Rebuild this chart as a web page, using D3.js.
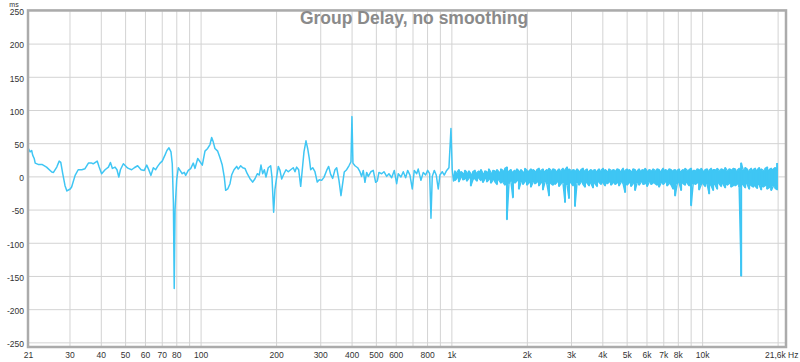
<html>
<head>
<meta charset="utf-8">
<title>Group Delay</title>
<script src="https://d3js.org/d3.v7.min.js"></script>
<style>
  body { margin: 0; background: #fff; }
  text { font-family: "Liberation Sans", Arial, sans-serif; }
</style>
</head>
<body>
<script>
// low end: read point by point (Hz, ms)
const lfFreq = [20.5, 20.9, 21.2, 21.4, 21.7, 21.9, 22.5, 23.3, 24.3, 25.5, 25.9, 26.7, 27.3, 27.7, 28.2, 28.8, 29.3, 30.2, 30.6, 31.6,
  32.5, 33.6, 34.6, 35.7, 36.8, 37.3, 38.7, 39.4, 40.3, 41.6, 42.9, 43.7, 44.5, 45.6, 46.4, 47.2, 47.9, 49.2, 50.7, 51.5,
  53.1, 54.4, 56.1, 57.9, 59.6, 61.0, 62.3, 63.4, 64.8, 66.2, 67.4, 68.9, 70.3, 72.1, 73.4, 74.8, 76.2, 77.1, 77.9, 78.5,
  79.1, 80.3, 81.5, 82.8, 84.5, 86.1, 87.2, 89.3, 91.3, 93.5, 95.0, 97.4, 99.5, 101.6, 104.1, 106.7, 109.0, 110.7, 112.3, 114.1,
  117.0, 119.5, 122.0, 124.3, 125.9, 128.3, 131.0, 133.0, 135.9, 139.3, 141.3, 144.5, 147.2, 150.3, 153.5, 157.4, 161.3, 164.8, 168.3, 171.4,
  174.1, 176.8, 179.5, 182.3, 186.1, 190.3, 192.6, 195.6, 197.9, 201.1, 204.1, 207.3, 210.6, 215.0, 219.0, 223.7, 228.7, 234.2, 237.9, 241.6,
  246.1, 250.7, 255.3, 258.4, 263.2, 267.3, 271.3, 274.8, 279.9, 285.8, 291.9, 297.3, 304.0, 310.4, 318.2, 324.1, 330.1, 336.3, 343.5, 348.9,
  356.3, 362.9, 367.2, 374.0, 382.3, 390.5, 397.8, 401.4, 405.1, 412.6, 423.0, 432.0, 438.7, 445.3, 452.3, 459.4, 466.3, 477.9, 488.1, 499.0,
  506.5, 514.4, 527.3, 538.6, 552.1, 563.8, 578.1, 592.0, 605.2, 614.2, 629.5, 643.0, 657.2, 669.5, 683.7, 698.4, 711.4, 727.1, 737.8, 756.4,
  772.6, 789.7, 804.4, 819.4, 829.3, 839.2, 854.6, 870.4, 886.6, 900.4, 919.6, 936.8, 957.8, 978.1, 996.3, 1008, 1020];
const lfDelay = [43, 37, 39, 32, 27, 20, 18, 18, 14, 6.5, 6, 14, 23, 21, 4, -14, -22, -19, -16, 1.5,
  10, 10, 11.6, 20, 20, 19, 23, 14, 4, 10, 14, 21, 12, 14, 10, -1, 10, 19, 14, 12,
  10, 13, 16, 10, 9, 17, 9, 1.5, 13, 10, 15, 20, 23, 32, 39, 43, 37, 19, -40, -169,
  -50, -5, 13, 9, 4, 6, 1.5, 9, 11.6, 20, 12, 27, 22, 17, 38, 42, 48, 58.6, 52, 42,
  38, 28, 17, -1, -21, -19, -11, 2, 10, 15, 11, 16, 13, 12, 4, -3.5, -8.6, -3.5, 4, 2,
  17, 4, 10, -1, 13, 16, -1, -54, -20, -1, 15, 9, -4, 4, 10, 7, 10, 13, 7, 14,
  10, -15, 16, 37, 53.5, 42, 27, 10, 13, 7, -8.6, -5, -6, -1.5, 9, 15, 3, -3, 10, 13,
  -6, -29, -15, 6.5, 10, 16, 22, 90, 20, 16, 13, 7, 0, 9, -9, 6, 0, 7, 9, -9,
  -7, 6, 4, 7, 0, 4, -2, 9, -11, 4, -1, 7, -2, 9, 2, -19, 9, 4, 11, -6,
  6, 2, 9, 4, -63, 0, 9, 2, -19, 2, 7, 2, 9, 13, 72, 10, -7];

// high end is too dense to read as a line: per-bin max / min (Hz, ms)
const hfFreq = [1033, 1052, 1072, 1092, 1112, 1132, 1153, 1175, 1196, 1219,
  1242, 1265, 1288, 1312, 1336, 1361, 1386, 1412, 1438, 1465,
  1492, 1520, 1548, 1577, 1606, 1636, 1666, 1697, 1728, 1760,
  1793, 1826, 1860, 1895, 1930, 1966, 2002, 2039, 2077, 2116,
  2155, 2195, 2236, 2277, 2319, 2362, 2406, 2451, 2496, 2542,
  2590, 2638, 2687, 2737, 2787, 2839, 2892, 2945, 3000, 3055,
  3113, 3170, 3229, 3289, 3350, 3412, 3475, 3540, 3605, 3672,
  3741, 3810, 3881, 3953, 4026, 4101, 4177, 4254, 4333, 4413,
  4496, 4579, 4664, 4750, 4839, 4928, 5020, 5113, 5207, 5304,
  5403, 5503, 5605, 5709, 5815, 5923, 6033, 6144, 6258, 6374,
  6493, 6614, 6736, 6861, 6988, 7118, 7250, 7384, 7521, 7660,
  7804, 7948, 8096, 8246, 8398, 8554, 8713, 8874, 9038, 9206,
  9379, 9552, 9730, 9910, 10093, 10280, 10471, 10665, 10862, 11064,
  11271, 11480, 11693, 11909, 12130, 12355, 12584, 12818, 13054, 13297,
  13546, 13797, 14052, 14313, 14578, 14848, 15124, 15404, 15689, 15980,
  16279, 16581, 16888, 17201, 17520, 17845, 18176, 18513, 18855, 19205,
  19565, 19927];
const hfMax = [8, 6, 10, 7, 5, 9, 6, 8, 4, 7,
  9, 6, 8, 10, 5, 8, 7, 11, 6, 9,
  8, 10, 7, 11, 9, 12, 14, 8, 10, 7,
  9, 11, 8, 10, 7, 12, 9, 8, 11, 10,
  8, 10, 12, 9, 11, 8, 10, 12, 9, 11,
  10, 8, 11, 9, 12, 10, 14, 11, 9, 10,
  9, 11, 8, 10, 12, 9, 11, 8, 10, 9,
  10, 8, 11, 9, 12, 10, 8, 11, 9, 10,
  9, 11, 10, 8, 12, 9, 11, 10, 8, 11,
  10, 8, 11, 9, 10, 12, 8, 10, 9, 11,
  9, 11, 10, 8, 12, 10, 9, 11, 10, 9,
  10, 9, 11, 8, 10, 12, 9, 10, 12, 9,
  9, 11, 10, 12, 8, 10, 11, 9, 12, 10,
  10, 12, 9, 11, 10, 13, 9, 11, 10, 12,
  11, 9, 12, 20, 10, 13, 11, 9, 12, 10,
  12, 10, 13, 11, 9, 12, 14, 10, 12, 11,
  13, 20];
const hfMin = [-6, -3, -8, -2, -5, -4, -7, -3, -14, -5,
  -4, -7, -3, -6, -9, -4, -8, -5, -10, -6,
  -8, -12, -6, -10, -9, -13, -65, -11, -8, -32,
  -10, -7, -19, -9, -12, -8, -13, -10, -16, -9,
  -11, -9, -14, -10, -20, -9, -12, -29, -11, -13,
  -12, -9, -15, -11, -10, -39, -13, -33, -10, -14,
  -45, -10, -13, -9, -12, -16, -10, -14, -11, -17,
  -11, -15, -9, -12, -10, -14, -11, -9, -13, -10,
  -12, -10, -14, -9, -11, -24, -13, -10, -15, -11,
  -21, -10, -13, -9, -12, -11, -15, -9, -12, -10,
  -11, -13, -16, -10, -12, -9, -14, -11, -13, -19,
  -29, -12, -10, -21, -11, -13, -10, -14, -44, -12,
  -12, -10, -20, -13, -11, -15, -12, -26, -14, -21,
  -13, -19, -11, -15, -12, -17, -13, -11, -16, -14,
  -14, -12, -16, -150, -13, -17, -12, -19, -14, -16,
  -15, -18, -13, -20, -16, -14, -19, -17, -21, -15,
  -18, -20];

const yTicks = [-250, -200, -150, -100, -50, 0, 50, 100, 150, 200, 250];
const xGrid = [30, 40, 50, 60, 70, 80, 90, 100, 200, 300, 400, 500, 600, 700, 800, 900,
  1000, 2000, 3000, 4000, 5000, 6000, 7000, 8000, 9000, 10000, 20000];
const xTickVals = [20.5, 30, 40, 50, 60, 70, 80, 100, 200, 300, 400, 500, 600, 800,
  1000, 2000, 3000, 4000, 5000, 6000, 7000, 8000, 10000, 21600];
const xTickLabels = ["21", "30", "40", "50", "60", "70", "80", "100", "200", "300", "400", "500", "600", "800",
  "1k", "2k", "3k", "4k", "5k", "6k", "7k", "8k", "10k", "21,6k Hz"];

const W = 800, H = 362;
const pLeft = 28, pRight = 786, pTop = 10.4, pBottom = 347;
const curveColor = "#3fc6f4";

const svg = d3.select("body").append("svg").attr("width", W).attr("height", H);
const x = d3.scaleLog().domain([20.5, 21600]).range([pLeft, pRight]);
const y = d3.scaleLinear().domain([-257, 250]).range([pBottom, pTop]);

// grid
svg.append("g")
  .attr("transform", `translate(0,${pBottom})`)
  .call(d3.axisBottom(x).tickValues(xGrid).tickSize(-(pBottom - pTop)).tickFormat(""))
  .call(g => g.select(".domain").remove())
  .call(g => g.selectAll("line").attr("stroke", "#d3d3d3"));
svg.append("g")
  .attr("transform", `translate(${pLeft},0)`)
  .call(d3.axisLeft(y).tickValues(yTicks).tickSize(-(pRight - pLeft)).tickFormat(""))
  .call(g => g.select(".domain").remove())
  .call(g => g.selectAll("line").attr("stroke", "#d3d3d3"));

svg.append("clipPath").attr("id", "clip")
  .append("rect").attr("x", pLeft).attr("y", pTop).attr("width", pRight - pLeft).attr("height", pBottom - pTop);
const plot = svg.append("g").attr("clip-path", "url(#clip)");

// dense band: fill between bin min and max
const bins = hfFreq.map((f, i) => ({ f, hi: hfMax[i], lo: hfMin[i] }));
plot.append("path")
  .datum(bins)
  .attr("fill", curveColor)
  .attr("d", d3.area().curve(d3.curveStep).x(d => x(d.f)).y0(d => y(d.lo)).y1(d => y(d.hi)));

// curve
const pts = lfFreq.map((f, i) => [f, lfDelay[i]]);
hfFreq.forEach((f, i) => {
  if (i % 2 === 0) pts.push([f, hfMax[i]], [f, hfMin[i]]);
  else pts.push([f, hfMin[i]], [f, hfMax[i]]);
});
plot.append("path")
  .datum(pts)
  .attr("fill", "none")
  .attr("stroke", curveColor)
  .attr("stroke-width", 1.5)
  .attr("stroke-linejoin", "round")
  .attr("d", d3.line().x(d => x(d[0])).y(d => y(d[1])));

// frame
svg.append("rect")
  .attr("x", pLeft).attr("y", pTop).attr("width", pRight - pLeft).attr("height", pBottom - pTop)
  .attr("fill", "none").attr("stroke", "#ababab").attr("stroke-width", 2.5);

// tick labels
svg.append("g")
  .attr("transform", `translate(${pLeft - 1},0)`)
  .call(d3.axisLeft(y).tickValues(yTicks).tickSize(0).tickPadding(3).tickFormat(d => String(d)))
  .call(g => g.select(".domain").remove())
  .call(g => g.selectAll("text").attr("font-size", 8.5).attr("fill", "#333").attr("font-family", "Liberation Sans, Arial").attr("dy", "0.5em"));
svg.append("g")
  .attr("transform", `translate(0,${pBottom})`)
  .call(d3.axisBottom(x).tickValues(xTickVals).tickFormat((d, i) => xTickLabels[i]).tickSize(0).tickPadding(5))
  .call(g => g.select(".domain").remove())
  .call(g => g.selectAll("text").attr("font-size", 8.5).attr("fill", "#333").attr("font-family", "Liberation Sans, Arial"))
  .call(g => g.selectAll("text").filter((d, i) => i === xTickVals.length - 1).attr("text-anchor", "end").attr("x", 12));

svg.append("text").attr("x", 14).attr("y", 6.6).attr("text-anchor", "middle")
  .attr("font-size", 7).attr("fill", "#333").text("ms");

svg.append("text").attr("x", 414).attr("y", 23.5).attr("text-anchor", "middle")
  .attr("font-size", 17.5).attr("font-weight", "bold").attr("fill", "#8a8a8a")
  .text("Group Delay, no smoothing");
</script>
</body>
</html>
